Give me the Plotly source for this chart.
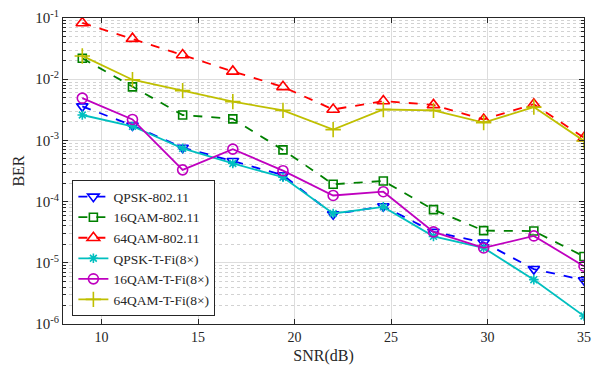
import plotly.graph_objects as go

snr = [9, 11.6, 14.2, 16.8, 19.4, 22, 24.6, 27.2, 29.8, 32.4, 35]

qpsk_80211 = [3.6e-3, 1.75e-3, 7.6e-4, 4.6e-4, 2.7e-4, 6.2e-5, 8.4e-5, 3.2e-5, 2.15e-5, 7.9e-6, 5.2e-6]
qam16_80211 = [2.2e-2, 7.5e-3, 2.6e-3, 2.25e-3, 7.0e-4, 1.92e-4, 2.17e-4, 7.4e-5, 3.35e-5, 3.3e-5, 1.27e-5]
qam64_80211 = [8.3e-2, 4.6e-2, 2.48e-2, 1.34e-2, 7.5e-3, 3.2e-3, 4.4e-3, 3.8e-3, 2.2e-3, 3.9e-3, 1.1e-3]
qpsk_tfi = [2.6e-3, 1.7e-3, 7.4e-4, 4.2e-4, 2.5e-4, 6.4e-5, 8.2e-5, 2.7e-5, 1.75e-5, 5.3e-6, 1.35e-6]
qam16_tfi = [4.9e-3, 2.2e-3, 3.3e-4, 7.2e-4, 3.2e-4, 1.26e-4, 1.45e-4, 3.2e-5, 1.75e-5, 2.75e-5, 8.8e-6]
qam64_tfi = [2.4e-2, 9.8e-3, 6.5e-3, 4.3e-3, 3.1e-3, 1.5e-3, 3.2e-3, 3.1e-3, 1.95e-3, 3.5e-3, 9.8e-4]

names = ["QPSK-802.11", "16QAM-802.11", "64QAM-802.11",
         "QPSK-T-Fi(8×)", "16QAM-T-Fi(8×)", "64QAM-T-Fi(8×)"]
series = [qpsk_80211, qam16_80211, qam64_80211, qpsk_tfi, qam16_tfi, qam64_tfi]
colors = ["#0000FF", "#008000", "#FF0000", "#00BFBF", "#BF00BF", "#BFBF00"]
dashes = ["dash", "dash", "dash", "solid", "solid", "solid"]
symbols = ["triangle-down-open", "square-open", "triangle-up-open",
           "asterisk-open", "circle-open", "cross-thin-open"]
sizes = [10, 8, 11, 8, 10, 11]

x_ticks = [10, 15, 20, 25, 30, 35]
y_tickvals = [1e-6, 1e-5, 1e-4, 1e-3, 1e-2, 1e-1]
y_ticktext = ["10<sup>-6</sup>", "10<sup>-5</sup>", "10<sup>-4</sup>",
              "10<sup>-3</sup>", "10<sup>-2</sup>", "10<sup>-1</sup>"]

fig = go.Figure()
for name, ys, c, d, s, sz in zip(names, series, colors, dashes, symbols, sizes):
    fig.add_trace(go.Scatter(
        x=snr, y=ys, name=name, mode="lines+markers",
        line=dict(color=c, width=1.8, dash=d),
        marker=dict(symbol=s, size=sz, color=c, line=dict(color=c, width=1.6)),
    ))

font = "Liberation Serif, Times New Roman, serif"
fig.update_layout(
    width=605, height=375,
    margin=dict(l=63, r=21, t=8, b=51),
    paper_bgcolor="white", plot_bgcolor="white",
    font=dict(family=font, size=14, color="#262626"),
    showlegend=True,
    legend=dict(
        x=0.018, y=0.025, xanchor="left", yanchor="bottom",
        bgcolor="white", bordercolor="#262626", borderwidth=1,
        font=dict(family=font, size=13.5, color="#262626"),
        tracegroupgap=0, itemwidth=30,
    ),
    xaxis=dict(
        range=[8, 35], tickvals=x_ticks,
        showgrid=True, gridcolor="#DDDDDD", gridwidth=1,
        ticks="inside", ticklen=5, tickcolor="#262626",
        showline=True, linecolor="#262626", linewidth=1, mirror="allticks",
        zeroline=False, tickfont=dict(size=14), ticklabeloverflow="allow",
        title=dict(text="SNR(dB)", standoff=6, font=dict(size=16)),
    ),
    yaxis=dict(
        type="log", range=[-6, -1],
        tickvals=y_tickvals, ticktext=y_ticktext,
        showgrid=True, gridcolor="#DDDDDD", gridwidth=1,
        ticks="inside", ticklen=5, tickcolor="#262626",
        showline=True, linecolor="#262626", linewidth=1, mirror="allticks",
        zeroline=False, tickfont=dict(size=15), ticklabeloverflow="allow",
        minor=dict(dtick="D1", ticks="inside", ticklen=3, tickcolor="#262626",
                   showgrid=True, gridcolor="#D2D2D2", griddash="dot", gridwidth=1),
        title=dict(text="BER", standoff=6, font=dict(size=16)),
    ),
)

fig.write_html("out.html", config={"displayModeBar": False},
               post_script="document.body.style.margin='0';")
